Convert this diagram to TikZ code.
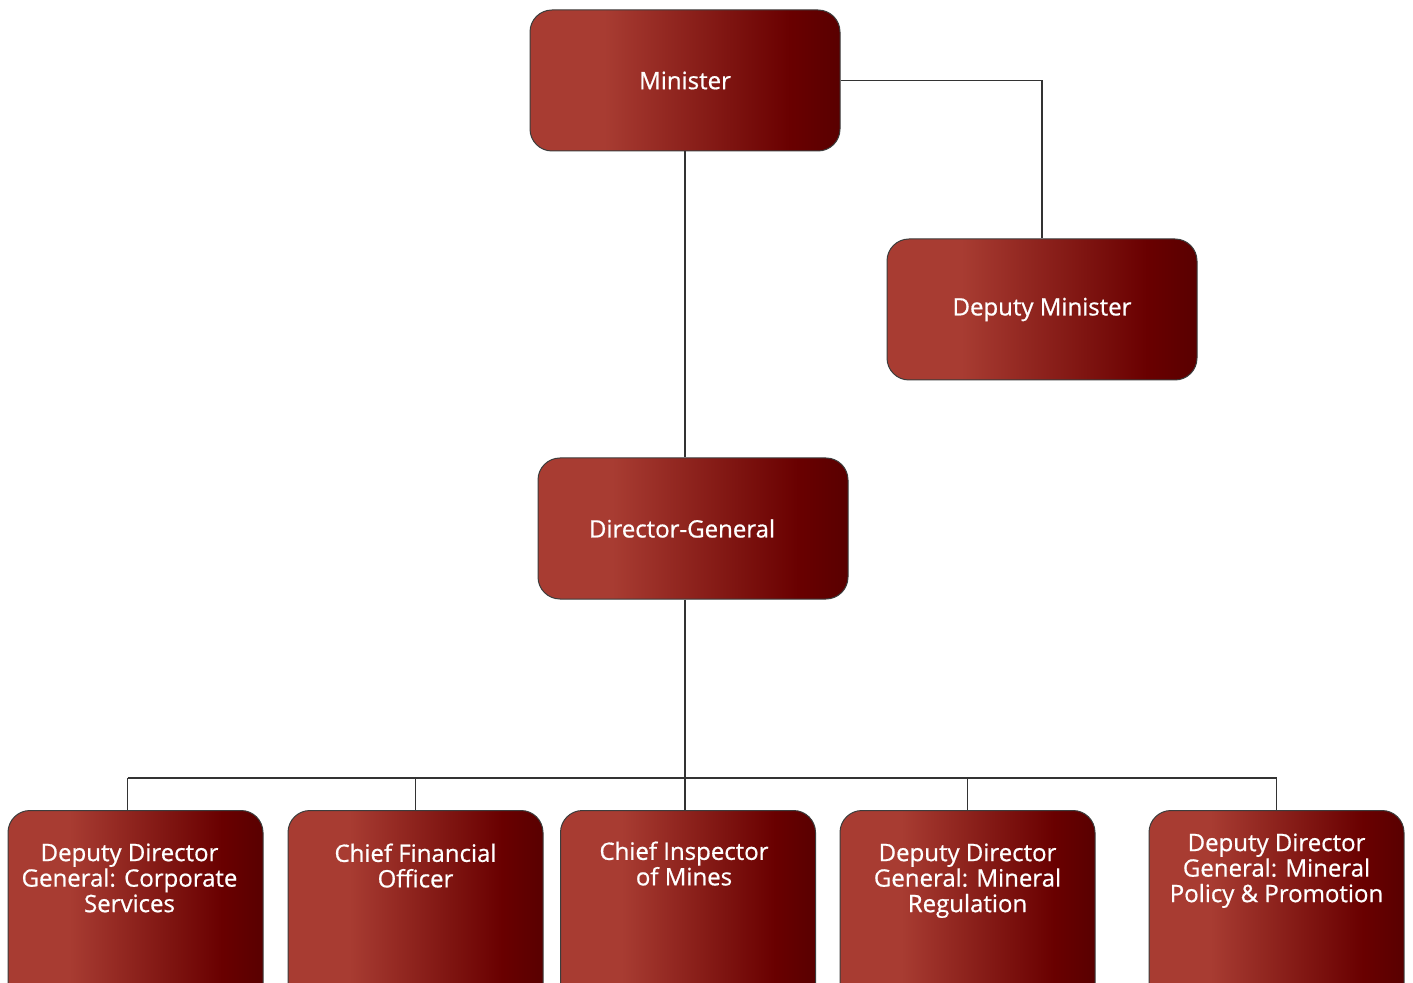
\documentclass[tikz,border=0pt]{standalone}
\usepackage{fontspec}
\setmainfont{Open Sans}
\newfontfamily\boxfont{Open Sans}[FakeBold=0.7]
\usetikzlibrary{positioning}

\definecolor{boxlight}{HTML}{A83C32}
\definecolor{boxmid}{HTML}{690000}
\definecolor{boxdark}{HTML}{590000}
\definecolor{boxline}{HTML}{3C3C3C}
\definecolor{linegray}{HTML}{333333}

\pgfdeclarehorizontalshading{redfade}{100bp}{color(0bp)=(boxlight); color(37bp)=(boxlight); color(67bp)=(boxmid); color(75bp)=(boxdark); color(100bp)=(boxdark)}

% text of a lower box, set from the top
\newcommand{\lowtext}[2]{\parbox[t][100pt][t]{124pt}{\vspace*{#1\dimexpr0.5pt\relax}\centering #2\par}}

\tikzset{
  post/.style={draw=boxline, line width=0.5pt, rounded corners=11pt, shading=redfade,
    text=white, font=\boxfont\fontsize{12}{12.75}\selectfont},
  topbox/.style={post, minimum width=155pt, minimum height=70.5pt},
  lowbox/.style={post, minimum width=127.5pt, inner sep=0pt, anchor=north},
  link/.style={draw=linegray, line width=0.75pt}
}

\begin{document}
\begin{tikzpicture}[x=0.5pt,y=-0.5pt]
  \useasboundingbox (0,0) rectangle (1413,983);
  \clip (0,0) rectangle (1413,983);

  \node[topbox] (minister) at (685,80.5)  {Minister};
  \node[topbox] (deputy)   at (1042,309.5) {Deputy Minister};
  \node[topbox] (dg)       at (693,528.5) {\hspace*{-11pt}Director-General};

  \node[lowbox] (cs)     at (135.5,810)  {\lowtext{33}{\hspace*{-6pt}Deputy Director\\\hspace*{-6pt}General: Corporate\\\hspace*{-6pt}Services}};
  \node[lowbox] (cfo)    at (415.5,810)  {\lowtext{33}{Chief Financial\\Officer}};
  \node[lowbox] (mines)  at (688,810)    {\lowtext{31}{\hspace*{-4pt}Chief Inspector\\\hspace*{-4pt}of Mines}};
  \node[lowbox] (reg)    at (967.5,810)  {\lowtext{33}{Deputy Director\\General: Mineral\\Regulation}};
  \node[lowbox] (policy) at (1276.5,810) {\lowtext{23}{Deputy Director\\General: Mineral\\Policy \& Promotion}};

  \coordinate (bus) at (685,778);

  \draw[link] (minister.south) -- (minister.south |- dg.north);
  \draw[link] (minister.east) -| (deputy.north);
  \draw[link] (bus |- dg.south) -- (bus |- mines.north);
  \draw[link] ([xshift=-4pt]bus -| cs.north) -- (bus -| policy.north);
  \draw[link] ([xshift=-4pt]bus -| cs.north) -- ([xshift=-4pt]cs.north);
  \foreach \n in {cfo,reg,policy}
    \draw[link] (bus -| \n.north) -- (\n.north);
\end{tikzpicture}
\end{document}
